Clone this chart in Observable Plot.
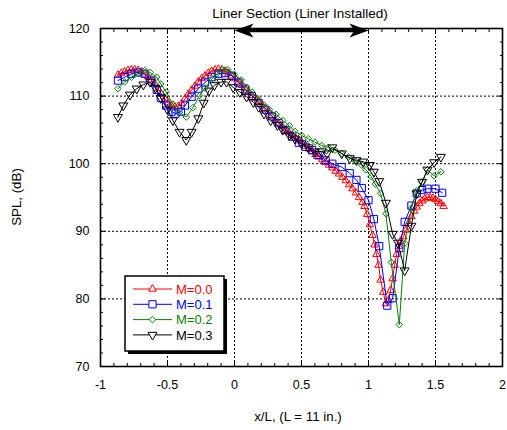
<!DOCTYPE html>
<html><head><meta charset="utf-8">
<script src="https://cdn.jsdelivr.net/npm/d3@7"></script>
<script src="https://cdn.jsdelivr.net/npm/@observablehq/plot@0.6"></script>
<style>body{margin:0;background:#fff}</style>
</head><body><div id="chart"></div>
<script>
// ---------- data ----------
const seriesNames = ["M=0.0", "M=0.1", "M=0.2", "M=0.3"];
const seriesColors = ["#ff0000", "#0000ff", "#0a7d0a", "#000000"];

const m00X = [-0.87,-0.845,-0.82,-0.795,-0.77,-0.745,-0.72,-0.695,-0.67,-0.645,-0.62,-0.595,-0.57,-0.545,-0.52,-0.495,-0.47,-0.445,-0.42,-0.395,-0.37,-0.345,-0.32,-0.295,-0.27,-0.245,-0.22,-0.195,-0.17,-0.145,-0.12,-0.095,-0.07,-0.045,-0.02,0.005,0.03,0.055,0.08,0.105,0.13,0.155,0.18,0.205,0.23,0.255,0.28,0.305,0.33,0.355,0.38,0.405,0.43,0.455,0.48,0.505,0.53,0.555,0.58,0.605,0.63,0.655,0.68,0.705,0.73,0.755,0.78,0.805,0.83,0.855,0.88,0.905,0.93,0.955,0.97,0.99,1.01,1.03,1.045,1.06,1.075,1.09,1.11,1.13,1.15,1.165,1.18,1.195,1.21,1.225,1.24,1.26,1.28,1.30,1.32,1.34,1.36,1.38,1.40,1.42,1.44,1.46,1.48,1.50,1.52,1.54,1.56];
const m00Y = [113.1,113.4,113.6,113.8,113.9,113.9,113.8,113.6,113.3,112.9,112.4,111.8,111.1,110.3,109.6,109.0,108.6,108.4,108.5,108.9,109.6,110.3,110.9,111.5,112.1,112.6,113.0,113.4,113.7,113.9,114.0,113.9,113.7,113.4,113.0,112.6,112.1,111.6,111.1,110.6,110.1,109.7,109.2,108.7,108.2,107.7,107.1,106.5,106.0,105.5,105.0,104.6,104.2,103.8,103.4,103.0,102.6,102.2,101.8,101.4,101.0,100.6,100.2,99.8,99.4,98.9,98.5,98.0,97.5,96.9,96.3,95.7,95.0,94.3,93.7,92.5,91.0,89.4,88.0,86.6,85.0,82.8,81.0,79.3,79.8,81.3,83.0,85.0,86.6,87.8,88.5,89.2,90.2,91.2,92.2,93.0,93.6,94.1,94.5,94.8,95.0,95.0,94.9,94.7,94.4,94.1,93.7];

const m01X = [-0.87,-0.82,-0.77,-0.72,-0.67,-0.62,-0.58,-0.55,-0.51,-0.47,-0.44,-0.40,-0.37,-0.32,-0.27,-0.22,-0.17,-0.12,-0.07,-0.02,0.03,0.08,0.13,0.18,0.23,0.28,0.33,0.38,0.43,0.48,0.53,0.58,0.62,0.68,0.73,0.80,0.86,0.91,0.95,1.00,1.04,1.08,1.14,1.18,1.23,1.27,1.32,1.36,1.40,1.44,1.50,1.55];
const m01Y = [112.3,112.8,113.3,113.5,113.3,112.3,110.9,109.7,108.6,107.7,107.4,107.7,108.6,109.9,111.1,112.0,112.8,113.3,113.4,113.0,112.0,111.0,110.0,109.0,108.0,107.0,106.0,105.0,104.0,103.1,102.5,102.0,101.3,100.5,100.0,99.5,98.6,97.6,96.4,94.6,91.8,87.8,79.0,80.1,87.5,91.4,93.8,95.6,96.1,96.3,96.3,95.7];

const m02X = [-0.87,-0.82,-0.77,-0.72,-0.67,-0.63,-0.58,-0.55,-0.51,-0.46,-0.41,-0.36,-0.31,-0.26,-0.22,-0.17,-0.13,-0.09,-0.05,0.00,0.05,0.09,0.13,0.17,0.22,0.26,0.31,0.36,0.41,0.45,0.50,0.55,0.60,0.65,0.70,0.75,0.80,0.85,0.90,0.95,0.98,1.02,1.05,1.09,1.13,1.17,1.23,1.27,1.32,1.36,1.40,1.44,1.49,1.54];
const m02Y = [111.1,112.1,112.8,113.3,113.8,113.5,112.8,111.8,110.6,108.8,107.6,106.9,108.3,110.1,111.2,112.5,113.3,113.9,113.9,113.2,112.4,111.3,110.6,109.7,108.7,108.0,107.3,106.4,105.6,104.8,104.2,103.7,103.2,102.7,102.4,102.0,101.5,101.0,100.4,99.8,99.1,98.1,97.0,95.6,92.6,85.4,76.2,88.2,93.4,96.0,97.3,99.1,98.2,98.8];

const m03X = [-0.87,-0.83,-0.78,-0.73,-0.68,-0.63,-0.59,-0.55,-0.50,-0.46,-0.41,-0.36,-0.32,-0.27,-0.23,-0.19,-0.15,-0.10,-0.06,-0.01,0.04,0.09,0.14,0.18,0.22,0.27,0.32,0.36,0.41,0.45,0.50,0.55,0.60,0.65,0.69,0.73,0.80,0.86,0.91,0.96,1.01,1.04,1.08,1.13,1.18,1.22,1.27,1.32,1.36,1.40,1.44,1.49,1.54];
const m03Y = [106.9,108.6,110.2,111.1,111.7,112.1,111.2,109.7,108.0,106.4,104.7,103.5,104.7,106.7,109.0,110.8,111.6,112.1,112.1,111.3,110.6,109.9,109.1,108.4,107.4,106.4,105.7,105.0,104.2,103.7,103.0,102.4,101.8,101.8,101.5,102.4,101.5,100.8,100.5,100.3,99.8,98.8,97.4,94.2,89.6,88.3,84.2,90.8,95.6,97.3,99.1,100.2,101.0];

const xTicks = [-1, -0.5, 0, 0.5, 1, 1.5, 2];
const xTickLabels = ["-1", "-0.5", "0", "0.5", "1", "1.5", "2"];
const yTicks = [70, 80, 90, 100, 110, 120];
const yTickLabels = ["70", "80", "90", "100", "110", "120"];
const linerSpan = [0, 1];
const linerArrowLevel = 119.7;
const titleText = "Liner Section (Liner Installed)";
const xLabel = "x/L, (L = 11 in.)";
const yLabel = "SPL, (dB)";

// ---------- symbols ----------
const S3 = Math.sqrt(3);
const triUp = {draw(c){const a=7.5,h=a*S3/2;c.moveTo(0,-2*h/3);c.lineTo(a/2,h/3);c.lineTo(-a/2,h/3);c.closePath();}};
const square = {draw(c){const s=3.6;c.moveTo(-s,-s);c.lineTo(s,-s);c.lineTo(s,s);c.lineTo(-s,s);c.closePath();}};
const diamond = {draw(c){const r=3.3;c.moveTo(0,-r);c.lineTo(r,0);c.lineTo(0,r);c.lineTo(-r,0);c.closePath();}};
const triDown = {draw(c){const a=9,h=a*S3/2;c.moveTo(-a/2,-h/3);c.lineTo(a/2,-h/3);c.lineTo(0,2*h/3);c.closePath();}};
const seriesSymbols = [triUp, square, diamond, triDown];
const headLeft = {draw(c){c.moveTo(0,0);c.lineTo(19,-7);c.lineTo(14,0);c.lineTo(19,7);c.closePath();}};
const headRight = {draw(c){c.moveTo(0,0);c.lineTo(-19,-7);c.lineTo(-14,0);c.lineTo(-19,7);c.closePath();}};

const seriesX = [m00X, m01X, m02X, m03X];
const seriesY = [m00Y, m01Y, m02Y, m03Y];
const tables = seriesX.map((xs, i) => xs.map((x, j) => ({x, y: seriesY[i][j]})));

const minorX = d3.range(-1, 2.0001, 0.1);
const minorY = d3.range(70, 120.001, 2);

const marks = [];
const gridOpts = {stroke: "#000", strokeOpacity: 1, strokeDasharray: "2,2", strokeWidth: 1};
marks.push(Plot.gridX(xTicks.slice(1, -1), gridOpts));
marks.push(Plot.gridY(yTicks.slice(1, -1), gridOpts));
const noLabel = () => "";
for (const anchor of ["bottom", "top"]) {
  marks.push(Plot.axisX(xTicks, {anchor, tickSize: -5, tickFormat: noLabel, stroke: "#000"}));
  marks.push(Plot.axisX(minorX, {anchor, tickSize: -3, tickFormat: noLabel, stroke: "#000"}));
}
for (const anchor of ["left", "right"]) {
  marks.push(Plot.axisY(yTicks, {anchor, tickSize: -5, tickFormat: noLabel, stroke: "#000"}));
  marks.push(Plot.axisY(minorY, {anchor, tickSize: -3, tickFormat: noLabel, stroke: "#000"}));
}
marks.push(Plot.axisX(xTicks, {anchor: "bottom", tickSize: 0, tickPadding: 14, tickFormat: (d, i) => xTickLabels[i], fill: "#000", fontSize: 12.5}));
marks.push(Plot.axisY(yTicks, {anchor: "left", tickSize: 0, tickPadding: 11, tickFormat: (d, i) => yTickLabels[i], fill: "#000", fontSize: 12.5}));

for (let i = 0; i < 4; i++) {
  marks.push(Plot.line(tables[i], {x: "x", y: "y", stroke: seriesColors[i], strokeWidth: 1}));
  marks.push(Plot.dot(tables[i], {x: "x", y: "y", symbol: seriesSymbols[i], stroke: seriesColors[i], fill: "none", strokeWidth: 1, r: 3}));
}
marks.push(Plot.frame({stroke: "#000", strokeWidth: 1.6}));
marks.push(Plot.ruleY([linerArrowLevel], {x1: linerSpan[0], x2: linerSpan[1], stroke: "#000", strokeWidth: 3.5, insetLeft: 10, insetRight: 10}));
marks.push(Plot.dot([linerSpan[0]], {x: d => d, y: () => linerArrowLevel, symbol: headLeft, fill: "#000", stroke: "none", r: 3}));
marks.push(Plot.dot([linerSpan[1]], {x: d => d, y: () => linerArrowLevel, symbol: headRight, fill: "#000", stroke: "none", r: 3}));

const plot = Plot.plot({
  width: 507, height: 430,
  marginLeft: 100, marginRight: 5, marginTop: 28, marginBottom: 64,
  x: {domain: [-1, 2], label: null},
  y: {domain: [70, 120], label: null},
  style: {fontFamily: "'Liberation Sans', Arial, sans-serif", fontSize: "12px", background: "#fff", color: "#000", overflow: "visible"},
  marks
});

const svg = d3.select(plot);
const ff = "'Liberation Sans', Arial, sans-serif";
svg.append("text").attr("x", 300).attr("y", 18).attr("text-anchor", "middle").attr("font-family", ff).attr("font-size", 13.5).attr("fill", "#000").text(titleText);
svg.append("text").attr("x", 298).attr("y", 421).attr("text-anchor", "middle").attr("font-family", ff).attr("font-size", 13.3).attr("fill", "#000").text(xLabel);
svg.append("text").attr("transform", "translate(21,197) rotate(-90)").attr("text-anchor", "middle").attr("font-family", ff).attr("font-size", 13.3).attr("fill", "#000").text(yLabel);

// legend
const lg = svg.append("g");
lg.append("rect").attr("x", 128).attr("y", 279).attr("width", 99).attr("height", 75).attr("fill", "#000");
lg.append("rect").attr("x", 125).attr("y", 276).attr("width", 99).attr("height", 75).attr("fill", "#fff").attr("stroke", "#000").attr("stroke-width", 1.5);
seriesNames.forEach((name, i) => {
  const yy = 289 + i * 15.3;
  lg.append("line").attr("x1", 133).attr("x2", 172).attr("y1", yy).attr("y2", yy).attr("stroke", seriesColors[i]).attr("stroke-width", 1);
  lg.append("path").attr("transform", `translate(152.5,${yy})`).attr("d", d3.symbol(seriesSymbols[i], 30)()).attr("fill", "#fff").attr("stroke", seriesColors[i]);
  lg.append("text").attr("x", 176).attr("y", yy).attr("dy", "0.36em").attr("text-anchor", "start").attr("font-family", ff).attr("font-size", 13).attr("fill", seriesColors[i]).text(name);
});

document.getElementById("chart").appendChild(plot);
</script>
</body></html>
